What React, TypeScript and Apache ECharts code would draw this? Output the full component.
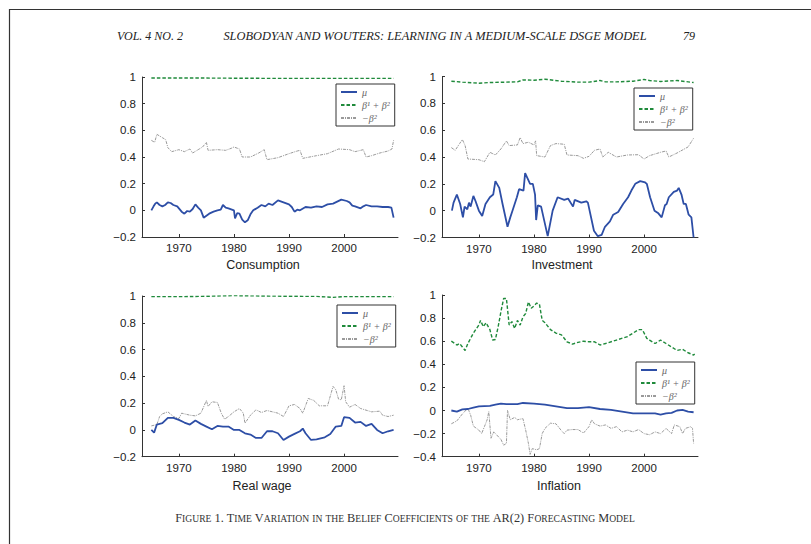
import React, { useEffect, useRef } from "react";
import * as echarts from "echarts";

type P = [number, number];

const legendNames = ["μ", "β¹ + β²", "−β²"];
const panelTitles = ["Consumption", "Investment", "Real wage", "Inflation"];
const yearTicks = [1970, 1980, 1990, 2000];

const consMu: P[] = [[1965,0.0],[1965.4,0.03],[1965.7,0.05],[1966,0.06],[1966.5,0.04],[1967,0.03],[1967.5,0.04],[1968,0.06],[1968.5,0.055],[1969,0.04],[1969.7,0.03],[1970.5,-0.01],[1971,-0.025],[1971.5,-0.005],[1972,-0.01],[1972.5,0.01],[1973,0.045],[1973.5,0.02],[1974,0.0],[1974.5,-0.055],[1975,-0.04],[1975.5,-0.025],[1976.3,-0.01],[1977,0.0],[1977.6,0.005],[1978,0.04],[1978.5,0.02],[1979,0.015],[1980,0.0],[1980.2,-0.06],[1980.6,-0.02],[1981,-0.025],[1981.5,-0.07],[1982,-0.09],[1982.5,-0.075],[1983,-0.03],[1983.5,0.0],[1984.3,0.02],[1985,0.04],[1985.7,0.03],[1986.3,0.05],[1987,0.04],[1988,0.075],[1989,0.06],[1990,0.045],[1990.5,0.025],[1991,-0.01],[1991.5,0.005],[1992,0.0],[1993,0.025],[1994,0.02],[1995,0.03],[1996,0.025],[1997,0.045],[1998,0.05],[1999.5,0.08],[2000.5,0.07],[2001,0.06],[2001.5,0.035],[2002,0.03],[2003,0.015],[2003.5,0.03],[2004,0.04],[2005,0.03],[2006,0.03],[2007,0.025],[2008,0.025],[2008.6,0.02],[2009,-0.055]];
const consBeta: P[] = [[1965,0.992],[1975,0.992],[1985,0.99],[1995,0.99],[2005,0.99],[2009,0.99]];
const consNegB2: P[] = [[1965,0.525],[1965.6,0.51],[1966,0.57],[1967,0.545],[1967.6,0.53],[1968,0.47],[1968.7,0.44],[1970,0.455],[1971,0.44],[1972,0.46],[1972.5,0.43],[1973.5,0.455],[1974.3,0.475],[1975,0.51],[1975.3,0.45],[1977,0.455],[1978.5,0.45],[1979.5,0.465],[1980,0.475],[1981,0.46],[1981.5,0.4],[1983,0.4],[1984.5,0.43],[1985.5,0.455],[1986,0.38],[1988,0.395],[1990,0.425],[1991.5,0.445],[1992,0.45],[1992.5,0.39],[1995,0.41],[1997,0.425],[1999,0.46],[2001,0.455],[2002,0.44],[2003,0.45],[2003.5,0.455],[2004,0.4],[2005,0.41],[2006.5,0.43],[2008,0.445],[2008.7,0.46],[2009,0.525]];

const invMu: P[] = [[1965.1,0.0],[1965.4,0.06],[1966,0.12],[1966.6,0.05],[1967.1,-0.05],[1967.4,0.03],[1967.9,0.01],[1968.2,0.06],[1968.5,0.03],[1969,0.11],[1969.4,0.07],[1970,0.0],[1970.6,-0.04],[1971.2,0.05],[1972,0.1],[1972.6,0.12],[1973,0.22],[1973.7,0.17],[1974.3,0.05],[1975.2,-0.12],[1975.7,-0.05],[1976.1,0.0],[1976.9,0.1],[1977.3,0.16],[1978.1,0.15],[1978.4,0.28],[1979.3,0.2],[1979.8,0.2],[1980.2,0.12],[1980.4,-0.07],[1980.7,0.04],[1981.3,0.03],[1982.5,-0.19],[1983.4,0.0],[1984.3,0.1],[1985.5,0.08],[1986.2,0.09],[1987.1,0.03],[1987.4,0.08],[1988.6,0.06],[1989.5,0.07],[1989.8,0.06],[1990.9,-0.15],[1991.6,-0.19],[1992.3,-0.18],[1992.9,-0.12],[1993.8,-0.08],[1994.4,-0.03],[1995.3,-0.01],[1996.2,0.05],[1997.1,0.1],[1997.7,0.15],[1998.4,0.2],[1999.3,0.22],[2000.2,0.21],[2000.5,0.2],[2001.1,0.1],[2001.9,0.0],[2002.6,-0.02],[2003.2,-0.05],[2003.8,0.04],[2004.1,0.05],[2004.5,0.1],[2005.4,0.14],[2006,0.15],[2006.3,0.17],[2006.8,0.12],[2007.2,0.05],[2007.6,0.05],[2008.1,-0.03],[2008.6,-0.05],[2009,-0.2]];
const invBeta: P[] = [[1965,0.965],[1967,0.958],[1970,0.95],[1972,0.955],[1975,0.958],[1977,0.96],[1978,0.975],[1980,0.972],[1982,0.98],[1985,0.965],[1988,0.958],[1990,0.958],[1992,0.97],[1993,0.96],[1995,0.96],[1998,0.965],[2000,0.978],[2001,0.97],[2003,0.963],[2006,0.97],[2009,0.955]];
const invNegB2: P[] = [[1965,0.47],[1965.7,0.45],[1966.5,0.5],[1967,0.53],[1967.5,0.485],[1968,0.385],[1970,0.38],[1971,0.365],[1972,0.435],[1973,0.415],[1974,0.46],[1975,0.52],[1975.5,0.485],[1977,0.49],[1977.5,0.545],[1978,0.5],[1979,0.51],[1980,0.49],[1980.3,0.52],[1980.5,0.41],[1982,0.4],[1983,0.485],[1984,0.5],[1985.5,0.495],[1986,0.415],[1988,0.41],[1989,0.39],[1990,0.405],[1991,0.45],[1992,0.46],[1992.5,0.4],[1993.5,0.435],[1995,0.4],[1997,0.415],[1999,0.417],[2000,0.385],[2001,0.41],[2003,0.435],[2004,0.445],[2004.5,0.4],[2006,0.43],[2008,0.475],[2009,0.54]];

const rwMu: P[] = [[1965,0.0],[1965.5,-0.02],[1966,0.04],[1967,0.05],[1968,0.09],[1969,0.09],[1970,0.075],[1971,0.055],[1972,0.04],[1973,0.07],[1974,0.045],[1975,0.025],[1976,0.005],[1977,0.03],[1978,0.025],[1979,0.025],[1980,0.0],[1981,0.0],[1982,-0.025],[1983,-0.035],[1984,-0.06],[1985,-0.06],[1986,-0.01],[1987,-0.01],[1988,-0.025],[1989,-0.075],[1990,-0.05],[1991,-0.03],[1992,-0.01],[1992.5,0.01],[1993,-0.025],[1994,-0.075],[1995,-0.07],[1996.5,-0.055],[1997.5,-0.03],[1998.5,0.025],[1999.5,0.03],[2000,0.095],[2001,0.09],[2002,0.055],[2003,0.06],[2004,0.03],[2005,0.045],[2006,0.0],[2007,-0.025],[2008,-0.01],[2009,0.0]];
const rwBeta: P[] = [[1965,0.995],[1970,0.995],[1975,0.998],[1980,1.003],[1985,1.0],[1990,0.998],[1995,0.997],[1998,0.99],[2000,0.995],[2005,0.995],[2009,0.995]];
const rwNegB2: P[] = [[1965,0.03],[1966,0.04],[1966.5,0.1],[1967,0.12],[1968,0.135],[1969,0.1],[1970,0.085],[1970.5,0.125],[1972,0.11],[1973,0.105],[1974,0.125],[1975,0.22],[1975.3,0.175],[1976,0.21],[1977,0.205],[1977.7,0.125],[1978.3,0.08],[1979,0.1],[1980,0.135],[1981,0.16],[1981.7,0.125],[1982,0.05],[1983,0.11],[1984,0.15],[1985,0.13],[1986,0.145],[1987,0.135],[1988,0.125],[1989,0.1],[1990,0.18],[1991,0.19],[1992,0.16],[1992.5,0.125],[1993.5,0.235],[1994.5,0.22],[1995.5,0.18],[1997,0.18],[1998,0.325],[1998.5,0.3],[1999,0.23],[1999.5,0.225],[2000,0.33],[2000.3,0.21],[2001,0.17],[2002,0.19],[2003,0.16],[2005,0.135],[2006.5,0.14],[2007,0.11],[2008,0.1],[2009,0.11]];

const infMu: P[] = [[1965,0.0],[1966,-0.01],[1967,0.01],[1968,0.013],[1969,0.025],[1970,0.035],[1972,0.04],[1973,0.05],[1974,0.06],[1975,0.055],[1976,0.055],[1977,0.055],[1978,0.065],[1980,0.06],[1982,0.05],[1984,0.035],[1986,0.02],[1988,0.02],[1990,0.03],[1992,0.013],[1994,0.005],[1996,-0.01],[1998,-0.025],[2000,-0.025],[2002,-0.025],[2003,-0.035],[2004,-0.025],[2005,-0.02],[2006,0.0],[2007,0.005],[2008,-0.01],[2009,-0.015]];
const infBeta: P[] = [[1965,0.6],[1966,0.567],[1966.5,0.58],[1967,0.55],[1967.5,0.52],[1968,0.58],[1969,0.67],[1970,0.74],[1970.3,0.78],[1970.8,0.725],[1971.3,0.76],[1972,0.7],[1972.5,0.61],[1973,0.615],[1973.5,0.725],[1974,0.855],[1974.5,0.97],[1975,0.97],[1975.5,0.74],[1976,0.77],[1976.5,0.71],[1977,0.78],[1977.5,0.74],[1978,0.81],[1978.5,0.84],[1979,0.94],[1979.5,0.885],[1980,0.905],[1980.5,0.93],[1981,0.92],[1981.5,0.78],[1982,0.76],[1983,0.7],[1984,0.67],[1985,0.655],[1986,0.595],[1987,0.575],[1988,0.59],[1989,0.6],[1990,0.595],[1991,0.595],[1992,0.567],[1993,0.58],[1995,0.61],[1997,0.64],[1998,0.67],[1999,0.7],[1999.7,0.7],[2000.5,0.625],[2001,0.61],[2002,0.58],[2003,0.61],[2004,0.58],[2005,0.55],[2006,0.52],[2007,0.53],[2008,0.5],[2009,0.48],[2009.2,0.49]];
const infNegB2: P[] = [[1965,-0.115],[1966,-0.09],[1967,-0.03],[1968,0.02],[1968.5,-0.04],[1969,-0.135],[1970,-0.17],[1970.5,-0.2],[1971,-0.14],[1971.5,-0.08],[1971.8,-0.01],[1972.2,-0.24],[1972.7,-0.185],[1973,-0.2],[1974,-0.25],[1974.5,-0.3],[1975,-0.285],[1975.2,0.0],[1975.7,-0.08],[1976.5,-0.06],[1977,-0.08],[1978,-0.07],[1978.5,-0.17],[1979,-0.285],[1979.3,-0.38],[1979.7,-0.33],[1980.5,-0.34],[1981,-0.33],[1981.5,-0.2],[1982,-0.155],[1983,-0.11],[1984,-0.115],[1985,-0.175],[1985.5,-0.2],[1986,-0.17],[1987,-0.165],[1988,-0.165],[1989,-0.195],[1990,-0.14],[1990.5,-0.08],[1991,-0.115],[1992,-0.135],[1993,-0.125],[1994,-0.155],[1995,-0.14],[1996,-0.185],[1997,-0.17],[1998,-0.185],[1999,-0.165],[2000,-0.2],[2001,-0.21],[2002,-0.185],[2003,-0.2],[2004,-0.155],[2005,-0.2],[2005.5,-0.125],[2006.5,-0.14],[2007,-0.2],[2007.5,-0.155],[2008.5,-0.14],[2008.8,-0.155],[2009,-0.285]];

const panelSeries = [
  [consMu, consBeta, consNegB2],
  [invMu, invBeta, invNegB2],
  [rwMu, rwBeta, rwNegB2],
  [infMu, infBeta, infNegB2],
];
const panelYMin = [-0.2, -0.2, -0.2, -0.4];
const panelYMax = [1, 1, 1, 1];

const captionText = "Figure 1. Time Variation in the Belief Coefficients of the AR(2) Forecasting Model";

const layout = [
  { grid: { left: 142, top: 77, width: 256, height: 160 }, legend: { left: 336, top: 84 }, title: [263, 265] },
  { grid: { left: 442, top: 76.5, width: 256, height: 161 }, legend: { left: 634, top: 88 }, title: [562, 265] },
  { grid: { left: 142, top: 296, width: 256, height: 160.7 }, legend: { left: 337, top: 305 }, title: [262, 486] },
  { grid: { left: 442, top: 295, width: 256, height: 161.7 }, legend: { left: 636, top: 362 }, title: [559, 486] },
];

const colors = ["#2d4ea6", "#1f8a3b", "#9a9a9a"];
const lineStyles: any[] = [
  { width: 1.8, type: "solid" },
  { width: 1.4, type: [3.5, 2] },
  { width: 1, type: [3, 1, 1, 1] },
];

function smallCaps(s: string) {
  let out = "";
  let cur = "";
  let curBig: boolean | null = null;
  for (const ch of s) {
    const big = !(ch >= "a" && ch <= "z");
    if (curBig !== null && big !== curBig) {
      out += `{${curBig ? "b" : "s"}|${cur}}`;
      cur = "";
    }
    curBig = big;
    cur += ch.toUpperCase();
  }
  if (cur) out += `{${curBig ? "b" : "s"}|${cur}}`;
  return out;
}

function fmtY(v: number) {
  const r = Math.round(v * 10) / 10;
  return r < 0 ? "−" + Math.abs(r) : String(r);
}

export default function App() {
  const ref = useRef<HTMLDivElement>(null);
  useEffect(() => {
    if (!ref.current) return;
    const chart = echarts.init(ref.current, undefined, { renderer: "svg" });
    const grids = layout.map((l) => ({ ...l.grid, containLabel: false, outerBoundsMode: "none" }));
    const axisCommon = {
      axisLine: { show: true, onZero: false, lineStyle: { color: "#333", width: 1 } },
      axisTick: { show: true, inside: true, length: 3, lineStyle: { color: "#333" } },
      splitLine: { show: false },
      axisLabel: { color: "#222", fontSize: 11.5, fontFamily: "Liberation Sans" },
    };
    const xAxes = layout.map((_, i) => ({
      type: "value",
      gridIndex: i,
      min: 1963.3,
      max: 2009.8,
      ...axisCommon,
      axisTick: { ...axisCommon.axisTick, customValues: yearTicks },
      axisLabel: { ...axisCommon.axisLabel, margin: 5, customValues: yearTicks, formatter: (v: number) => String(Math.round(v)) },
    }));
    const yAxes = layout.map((_, i) => ({
      type: "value",
      gridIndex: i,
      min: panelYMin[i],
      max: panelYMax[i],
      interval: 0.2,
      ...axisCommon,
      axisLabel: { ...axisCommon.axisLabel, margin: 6, formatter: fmtY },
    }));
    const series: any[] = [];
    panelSeries.forEach((arr, i) => {
      arr.forEach((d, k) => {
        series.push({
          type: "line",
          name: legendNames[k],
          xAxisIndex: i,
          yAxisIndex: i,
          data: d,
          showSymbol: false,
          symbol: "none",
          clip: true,
          color: colors[k],
          lineStyle: { color: colors[k], ...lineStyles[k] },
          z: 3 - k,
        });
      });
    });
    const legends = layout.map((l) => ({
      left: l.legend.left,
      top: l.legend.top,
      orient: "vertical",
      backgroundColor: "#fff",
      borderColor: "#333",
      borderWidth: 1,
      borderRadius: 0,
      padding: [3, 5, 3, 4],
      itemGap: 3,
      itemWidth: 16,
      itemHeight: 9,
      selectedMode: false,
      itemStyle: { opacity: 0 },
      textStyle: { fontFamily: "Liberation Serif", fontStyle: "italic", fontSize: 10, color: "#666" },
      data: legendNames,
    }));
    const titles = layout.map((l, i) => ({
      type: "text",
      x: l.title[0],
      y: l.title[1],
      style: { text: panelTitles[i], fill: "#222", font: "12.5px 'Liberation Sans'", textAlign: "center", textVerticalAlign: "middle" },
    }));
    chart.setOption({
      animation: false,
      backgroundColor: "#fff",
      grid: grids,
      xAxis: xAxes,
      yAxis: yAxes,
      legend: legends,
      series,
      graphic: [
        { type: "line", shape: { x1: 9, y1: 9.5, x2: 811, y2: 9.5 }, style: { stroke: "#333", lineWidth: 1.2 } },
        { type: "line", shape: { x1: 9.5, y1: 9, x2: 9.5, y2: 544 }, style: { stroke: "#333", lineWidth: 1.2 } },
        { type: "text", x: 117, y: 36, style: { text: "VOL. 4 NO. 2", fill: "#222", font: "italic 12px 'Liberation Serif'", textVerticalAlign: "middle" } },
        { type: "text", x: 435, y: 36, style: { text: "SLOBODYAN AND WOUTERS: LEARNING IN A MEDIUM-SCALE DSGE MODEL", fill: "#222", font: "italic 12.4px 'Liberation Serif'", textAlign: "center", textVerticalAlign: "middle" } },
        { type: "text", x: 695, y: 36, style: { text: "79", fill: "#222", font: "italic 12px 'Liberation Serif'", textAlign: "right", textVerticalAlign: "middle" } },
        ...titles,
        {
          type: "text",
          x: 405,
          y: 518,
          style: {
            text: smallCaps(captionText),
            textAlign: "center",
            textVerticalAlign: "middle",
            fill: "#333",
            rich: {
              b: { fontFamily: "Liberation Serif", fontSize: 12.3, fill: "#333", color: "#333" },
              s: { fontFamily: "Liberation Serif", fontSize: 9.6, fill: "#333", color: "#333" },
            },
          },
        },
      ],
    });
    return () => chart.dispose();
  }, []);
  return <div ref={ref} style={{ position: "fixed", left: 0, top: 0, width: 811, height: 544 }} />;
}
